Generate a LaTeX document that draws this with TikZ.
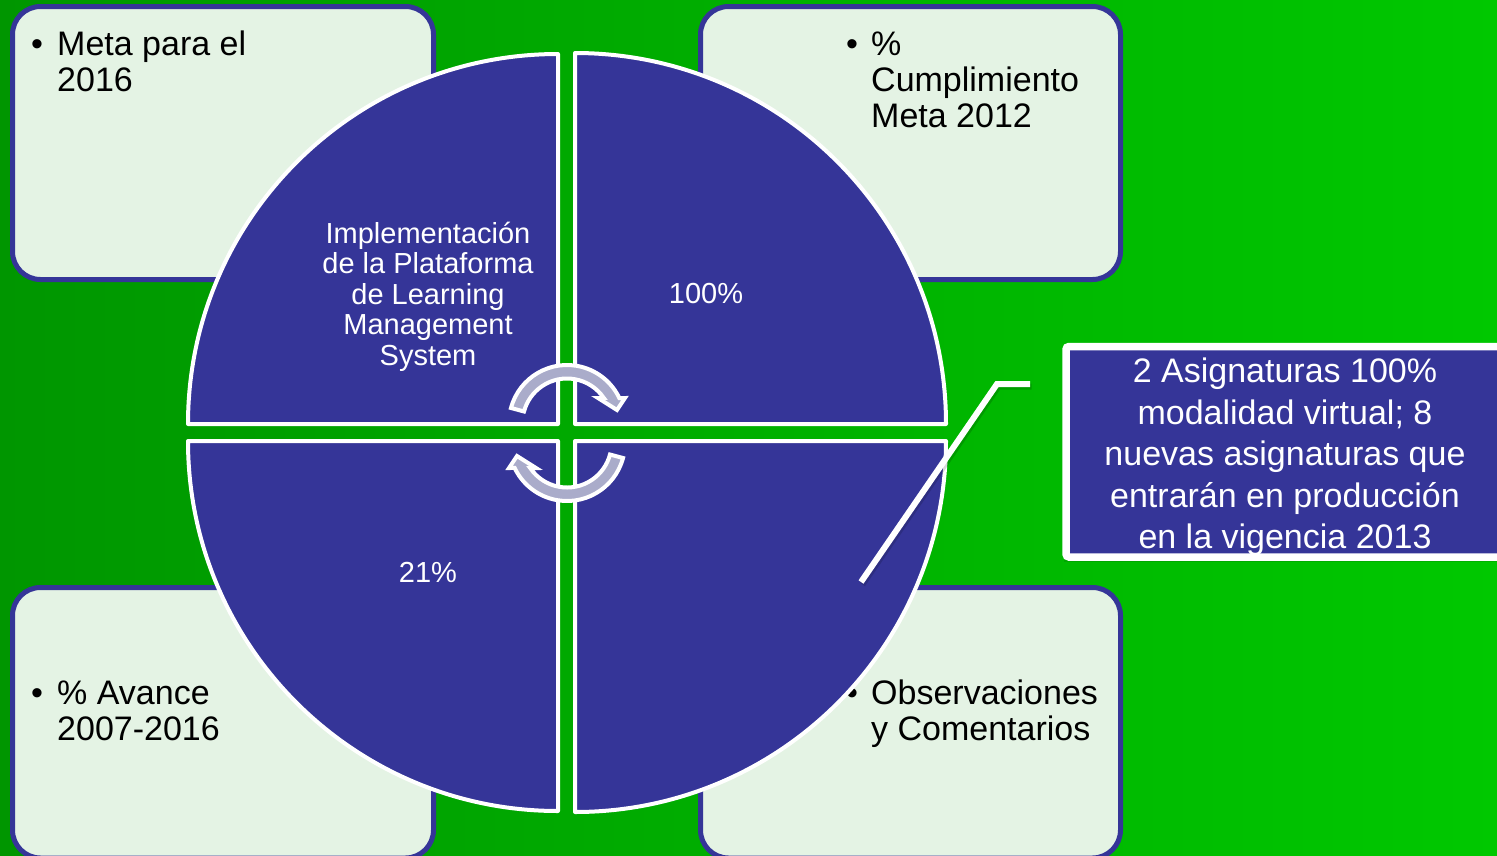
\documentclass[tikz,border=0pt]{standalone}
\usepackage{fontspec}
\setmainfont{Liberation Sans}
\definecolor{qblue}{RGB}{53,53,152}
\definecolor{boxfill}{RGB}{228,243,228}
\definecolor{arrgray}{RGB}{170,172,202}
\definecolor{gL}{RGB}{0,150,0}
\definecolor{gR}{RGB}{0,200,0}
\begin{document}
\begin{tikzpicture}[x=1pt,y=-1pt,
  infobox/.style={draw=qblue,line width=5,fill=boxfill,rounded corners=28},
  quad/.style={fill=qblue,draw=white,line width=4,line join=round},
  btxt/.style={anchor=base west,inner sep=0,font=\fontsize{34}{36}\selectfont,text=black},
  qtxt/.style={inner sep=0,text=white,font=\fontsize{29}{30.5}\selectfont,align=center},
  cyc/.style={fill=arrgray,draw=white,line width=4,line join=miter},
  leader/.style={draw=white,line width=6},
  leadershadow/.style={draw=black,opacity=0.15,line width=6},
  callbox/.style={draw=white,line width=7.5,fill=qblue,rounded corners=3},
  ctxt/.style={inner sep=0,text=white,font=\fontsize{34}{41.5}\selectfont,align=center}]
\useasboundingbox (0,0) rectangle (1497,855);
\clip (0,0) rectangle (1497,855);
% background
\shade[left color=gL, right color=gR] (0,0) rectangle (1497,855);
% info boxes
\draw[infobox] (12.5,6.5) rectangle (433.5,279.5);
\draw[infobox] (700.5,6.5) rectangle (1120.5,279.5);
\draw[infobox] (12.5,587.5) rectangle (433.5,858);
\draw[infobox] (700.5,587.5) rectangle (1120.5,858);
% box texts
\node[btxt] (b1) at (31,55) {•};
\node[btxt] (t1a) at (57,55) {Meta para el};
\node[btxt] (t1b) at (57,91) {2016};
\node[btxt] (b2) at (846,55) {•};
\node[btxt] (t2a) at (871,55) {\%};
\node[btxt] (t2b) at (871,91) {Cumplimiento};
\node[btxt] (t2c) at (871,127) {Meta 2012};
\node[btxt] (b3) at (31,704) {•};
\node[btxt] (t3a) at (57,704) {\% Avance};
\node[btxt] (t3b) at (57,740) {2007-2016};
\node[btxt] (b4) at (846,704) {•};
\node[btxt] (t4a) at (871,704) {Observaciones};
\node[btxt] (t4b) at (871,740) {y Comentarios};
% quadrants
\draw[quad] (558,424) -- (188,424) arc[start angle=180,end angle=270,radius=370] -- cycle;
\draw[quad] (575,424) -- (575,53) arc[start angle=270,end angle=360,radius=371] -- cycle;
\draw[quad] (575,441) -- (946,441) arc[start angle=0,end angle=90,radius=371] -- cycle;
\draw[quad] (558,441) -- (558,811) arc[start angle=90,end angle=180,radius=370] -- cycle;
% quadrant texts
\node[qtxt] (q1) at (428,296.5) {Implementación\\de la Plataforma\\de Learning\\Management\\System};
\node[qtxt] (q2) at (706,294) {100\%};
\node[qtxt] (q3) at (428,572) {21\%};
% cycle arrows
\begin{scope}[shift={(567,423)}]
  \draw[cyc] (195:58) arc[start angle=195,end angle=334.5,radius=58]
    -- (58,-25) -- (50,-13) -- (31,-25)
    -- (325.8:44.5) arc[start angle=325.8,end angle=195,radius=44.5] -- cycle;
\end{scope}
\begin{scope}[shift={(567,443)},rotate=180]
  \draw[cyc] (195:58) arc[start angle=195,end angle=334.5,radius=58]
    -- (58,-25) -- (50,-13) -- (31,-25)
    -- (325.8:44.5) arc[start angle=325.8,end angle=195,radius=44.5] -- cycle;
\end{scope}
% callout
\coordinate (ctip) at (861,582);
\coordinate (cbend) at (997,384);
\coordinate (cend) at (1030,384);
\draw[leadershadow] ([shift={(1.5,2.5)}]ctip) -- ([shift={(1.5,2.5)}]cbend) -- ([shift={(1.5,2.5)}]cend);
\draw[leader] (ctip) -- (cbend) -- (cend);
\fill[black,opacity=0.1] (1064,350) rectangle (1530,562);
\draw[callbox] (1066,346.5) rectangle (1530,557);
\node[ctxt] (ct) at (1285,457) {2 Asignaturas 100\%\\modalidad virtual; 8\\nuevas asignaturas que\\entrarán en producción\\en la vigencia 2013};
\end{tikzpicture}
\end{document}
